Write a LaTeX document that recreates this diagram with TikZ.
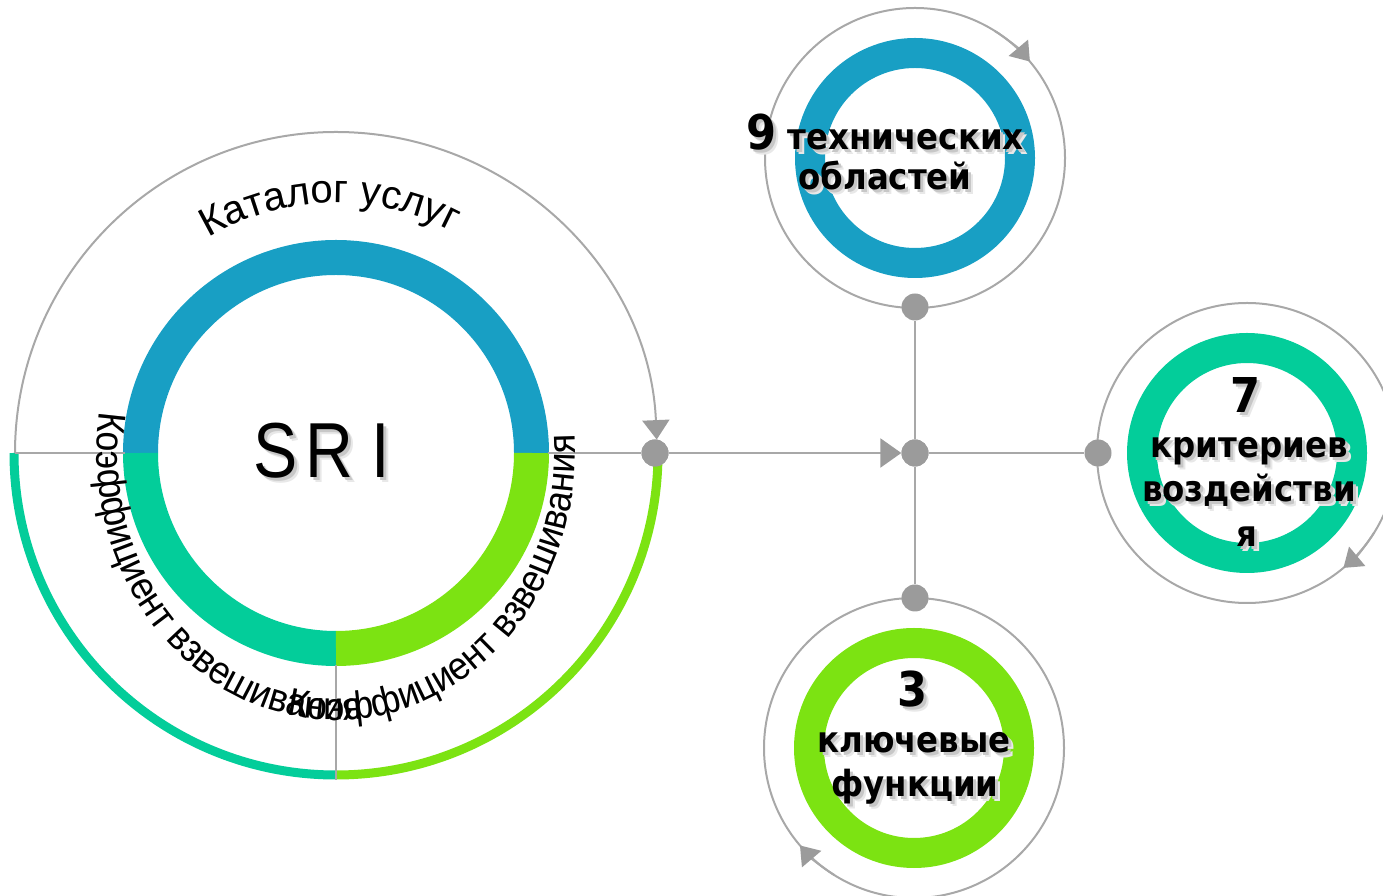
\documentclass[tikz,border=0pt]{standalone}
\usepackage{fontspec}
\setmainfont{Liberation Sans}
\newfontfamily\labelfont{DejaVu Sans}
\newfontfamily\narrowface{Liberation Sans}[FakeStretch=0.92]
\usetikzlibrary{arrows.meta,decorations.text}

\definecolor{ringblue}{HTML}{189FC4}
\definecolor{ringteal}{HTML}{03CD9A}
\definecolor{ringlime}{HTML}{7CE312}
\definecolor{linegray}{HTML}{A8A8A8}
\definecolor{dotgray}{HTML}{9B9B9B}

\tikzset{
  link/.style={draw=linegray, line width=2pt},
  hubdot/.style={circle, fill=dotgray, minimum size=27pt, inner sep=0pt},
  bigring/.style={line width=35pt},
  smallring/.style={line width=30pt},
  bandarc/.style={line width=9pt},
  headtip/.style={-{Triangle[width=#1,length=0.72*#1,color=dotgray]}},
}

% bold label with a soft drop shadow: name, position, font, text
\newcommand\glowlabel[4]{%
  \node[anchor=base, xshift=5pt, yshift=-5pt, text=black!9, xscale=0.9] at #2 {#3#4};
  \node[anchor=base, xshift=3pt, yshift=-3pt, text=black!22, xscale=0.9] at #2 {#3#4};
  \node[anchor=base, xscale=0.9] (#1) at #2 {#3#4};
}
\newcommand\boldlbl{\labelfont\bfseries\fontsize{36}{40}\selectfont}
\newcommand\numfont{\fontsize{48}{48}\selectfont}
\newcommand\arcfont{\narrowface\fontsize{39}{39}\selectfont}
\newcommand\toparcfont{\fontsize{40}{40}\selectfont}

\begin{document}
\begin{tikzpicture}[x=1pt,y=1pt]
\useasboundingbox (0,0) rectangle (1383,896);

% centres
\coordinate (C) at (336,443);
\coordinate (T) at (915,738);
\coordinate (R) at (1247,443);
\coordinate (B) at (914,148);

% ---- main SRI ring ----
\draw[ringblue, bigring] ([shift={(0:195.5)}]C) arc[start angle=0, end angle=180, radius=195.5];
\draw[ringteal, bigring] ([shift={(180:195.5)}]C) arc[start angle=180, end angle=270, radius=195.5];
\draw[ringlime, bigring] ([shift={(270:195.5)}]C) arc[start angle=270, end angle=360, radius=195.5];

% outer bands below
\draw[ringteal, bandarc] ([shift={(180:322)}]C) arc[start angle=180, end angle=270, radius=322];
\draw[ringlime, bandarc] ([shift={(270:322)}]C) arc[start angle=270, end angle=360, radius=322];

% outer thin arc on top with arrow
\draw[link, headtip=27pt] ([shift={(180:321)}]C) arc[start angle=180, end angle=2.4, radius=321];

% straight guides of the main ring
\coordinate (arcL) at (15,443);
\coordinate (ringL) at (124.5,443);
\coordinate (ringR) at (547.5,443);
\coordinate (ringB) at (336,230.5);
\coordinate (bandB) at (336,116);
\draw[link] (arcL) -- (ringL);
\draw[link] (ringB) -- (bandB);

% ---- satellite rings ----
\draw[ringblue, smallring] (T) circle[radius=105];
\draw[ringteal, smallring] (R) circle[radius=105];
\draw[ringlime, smallring] (B) circle[radius=105];

\draw[link] (T) circle[radius=150];
\draw[link] (R) circle[radius=150];
\draw[link] (B) circle[radius=150];

\draw[link, headtip=25pt] ([shift={(58:150)}]T) arc[start angle=58, end angle=40, radius=150];
\draw[link, headtip=25pt] ([shift={(-32:150)}]R) arc[start angle=-32, end angle=-50, radius=150];
\draw[link, headtip=25pt] ([shift={(238:150)}]B) arc[start angle=238, end angle=220.5, radius=150];

% ---- hub and connectors ----
\node[hubdot] (d1) at (655,443) {};
\node[hubdot] (hub) at (915,443) {};
\node[hubdot] (dtop) at (915,589) {};
\node[hubdot] (dbot) at (915,298) {};
\node[hubdot] (dright) at (1098,443) {};

\draw[link] (ringR) -- (d1);
\draw[link, headtip=29pt] (d1) -- (hub);
\draw[link] (hub) -- (dtop);
\draw[link] (hub) -- (dbot);
\draw[link] (hub) -- (dright);
\node[hubdot] at (d1) {};
\node[hubdot] at (hub) {};

% ---- curved captions ----
\begin{scope}[xshift=3pt, yshift=-3pt]
\path[decorate, decoration={text along path, text align=center, text color=black!22,
  text={|\toparcfont|Каталог услуг}}]
  ([shift={(130:250)}]C) arc[start angle=130, end angle=53, radius=250];
\path[decorate, decoration={text along path, text color=black!22,
  text={|\arcfont|Коэффициент взвешивания}}]
  ([shift={(171:239 and 267)}]C) arc[start angle=171, end angle=310, x radius=239, y radius=267];
\path[decorate, decoration={text along path, text color=black!22,
  text={|\arcfont|Коэффициент взвешивания}}]
  ([shift={(258:239 and 267)}]C) arc[start angle=258, end angle=390, x radius=239, y radius=267];
\end{scope}
\path[decorate, decoration={text along path, text align=center,
  text={|\toparcfont|Каталог услуг}}]
  ([shift={(130:250)}]C) arc[start angle=130, end angle=53, radius=250];
\path[decorate, decoration={text along path,
  text={|\arcfont|Коэффициент взвешивания}}]
  ([shift={(171:239 and 267)}]C) arc[start angle=171, end angle=310, x radius=239, y radius=267];
\path[decorate, decoration={text along path,
  text={|\arcfont|Коэффициент взвешивания}}]
  ([shift={(258:239 and 267)}]C) arc[start angle=258, end angle=390, x radius=239, y radius=267];

% ---- centre title ----
\node[anchor=base, xshift=5pt, yshift=-5pt, text=black!9] at (322,418) {\fontsize{78}{78}\selectfont\scalebox{0.85}[1]{S\kern9pt R\kern22pt I}};
\node[anchor=base, xshift=3pt, yshift=-3pt, text=black!22] at (322,418) {\fontsize{78}{78}\selectfont\scalebox{0.85}[1]{S\kern9pt R\kern22pt I}};
\node[anchor=base] (sri) at (322,418) {\fontsize{78}{78}\selectfont\scalebox{0.85}[1]{S\kern9pt R\kern22pt I}};

% ---- satellite labels ----
\glowlabel{ta}{(885,746)}{\boldlbl}{{\numfont 9} технических}
\glowlabel{tb}{(885,706)}{\boldlbl}{областей}

\glowlabel{ra}{(1246,483)}{\boldlbl\numfont}{7}
\glowlabel{rb}{(1249,438)}{\boldlbl}{критериев}
\glowlabel{rc}{(1249,394)}{\boldlbl}{воздействи}
\glowlabel{rd}{(1247,349)}{\boldlbl}{я}

\glowlabel{ba}{(913,189)}{\boldlbl\numfont}{3}
\glowlabel{bb}{(914,143)}{\boldlbl}{ключевые}
\glowlabel{bc}{(915,99)}{\boldlbl}{функции}
\end{tikzpicture}
\end{document}
